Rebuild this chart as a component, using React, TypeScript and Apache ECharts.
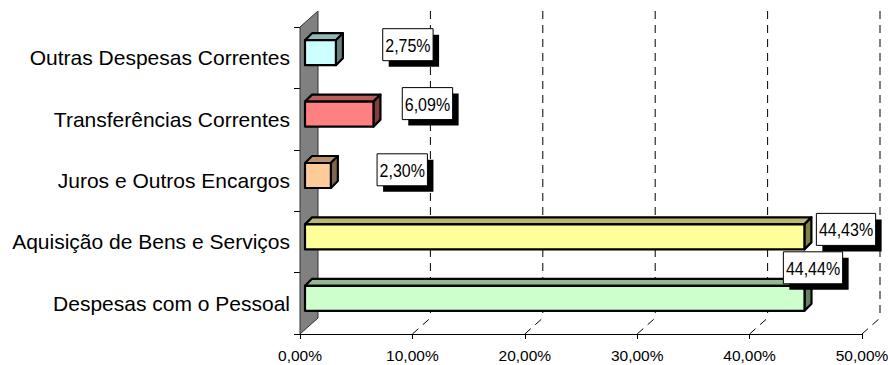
import React, { useEffect, useRef } from "react";
import * as echarts from "echarts";

// Categories listed bottom-to-top, as the category axis lays them out
const categories = [
  "Despesas com o Pessoal",
  "Aquisição de Bens e Serviços",
  "Juros e Outros Encargos",
  "Transferências Correntes",
  "Outras Despesas Correntes",
];
const shares = [44.44, 44.43, 2.3, 6.09, 2.75];
const axisTicks = [0, 10, 20, 30, 40, 50];

const barColors = ["#CCFFCC", "#FFFF99", "#FFCC99", "#FF8080", "#CCFFFF"];
// Centre of each value box relative to the end of its bar's front face
const labelOffsets: number[][] = [
  [8.5, -30.5],
  [41.6, -7.5],
  [71.4, -5.7],
  [54, -10.5],
  [72, -8],
];

const FONT = "Liberation Sans, Arial, Helvetica, sans-serif";
const LABEL_FONT_SIZE = 16;
const LABEL_STRETCH_Y = 1.2;
const WALL_DX = 18;
const WALL_DY = -16;
const BAR_SHIFT = 5;
const BAR_DEPTH = 7;
const BAR_HEIGHT = 25;
const BOX_PAD_X = 2.5;
const BOX_HEIGHT = 32;
const SHADOW = 6;

const pct = (v: number) => v.toFixed(2).replace(".", ",") + "%";

function shade(hex: string, k: number) {
  const n = parseInt(hex.slice(1), 16);
  const r = Math.round(((n >> 16) & 255) * k);
  const g = Math.round(((n >> 8) & 255) * k);
  const b = Math.round((n & 255) * k);
  return `rgb(${r},${g},${b})`;
}

let measureCtx: CanvasRenderingContext2D | null = null;
function textWidth(text: string, font: string) {
  if (!measureCtx) measureCtx = document.createElement("canvas").getContext("2d");
  if (!measureCtx) return text.length * 9;
  measureCtx.font = font;
  return measureCtx.measureText(text).width;
}

export default function App() {
  const ref = useRef<HTMLDivElement>(null);

  useEffect(() => {
    if (!ref.current) return;
    const chart = echarts.init(ref.current, null, { renderer: "svg" });
    const labelFont = `${LABEL_FONT_SIZE}px ${FONT}`;

    const option: any = {
      animation: false,
      backgroundColor: "#fff",
      grid: { left: 300, right: 26, top: 27, bottom: 31, outerBoundsMode: "none" },
      xAxis: {
        type: "value",
        min: 0,
        max: 50,
        interval: 10,
        axisLine: { show: true, lineStyle: { color: "#000", width: 1 } },
        axisTick: { show: true, length: 5, lineStyle: { color: "#000" } },
        splitLine: { show: false },
        axisLabel: {
          formatter: (v: number) => pct(v),
          color: "#000",
          fontSize: 15.5,
          fontFamily: FONT,
          margin: 13,
        },
      },
      yAxis: {
        type: "category",
        data: categories,
        axisLine: { show: true, lineStyle: { color: "#000", width: 1 } },
        axisTick: { show: true, length: 6, lineStyle: { color: "#000" } },
        splitLine: { show: false },
        axisLabel: { color: "#000", fontSize: 21, fontFamily: FONT, margin: 10 },
      },
      series: [
        {
          // side wall and the dashed gridlines on the back wall and floor
          type: "custom",
          z: 1,
          clip: false,
          silent: true,
          encode: { x: 0, y: 1 },
          data: axisTicks.map((t) => [t, 0]),
          renderItem: (params: any, api: any) => {
            const cs = params.coordSys;
            const top = cs.y;
            const bottom = cs.y + cs.height;
            const t = api.value(0);
            const x = api.coord([t, 0])[0];
            if (t === 0) {
              return {
                type: "polygon",
                shape: {
                  points: [
                    [x, top],
                    [x + WALL_DX, top + WALL_DY],
                    [x + WALL_DX, bottom + WALL_DY],
                    [x, bottom],
                  ],
                },
                style: { fill: "#808080", stroke: "#333", lineWidth: 1 },
              };
            }
            const last = t === axisTicks[axisTicks.length - 1];
            const style = {
              stroke: last ? "#808080" : "#000",
              lineWidth: last ? 2 : 1,
              lineDash: [8, 6],
              fill: null,
            };
            return {
              type: "group",
              children: [
                {
                  type: "line",
                  shape: {
                    x1: x + WALL_DX,
                    y1: top + WALL_DY,
                    x2: x + WALL_DX,
                    y2: bottom + WALL_DY,
                  },
                  style,
                },
                {
                  type: "line",
                  shape: { x1: x, y1: bottom, x2: x + WALL_DX, y2: bottom + WALL_DY },
                  style: { ...style, stroke: "#000", lineWidth: 1 },
                },
              ],
            };
          },
        },
        {
          // 3D bars: front face, top face and right side face
          type: "custom",
          z: 3,
          clip: false,
          encode: { x: 0, y: 1 },
          data: shares.map((v, i) => [v, i]),
          renderItem: (_params: any, api: any) => {
            const v = api.value(0);
            const idx = api.value(1);
            const p0 = api.coord([0, idx]);
            const p1 = api.coord([v, idx]);
            const x = p0[0] + BAR_SHIFT;
            const w = p1[0] - p0[0];
            const y = p0[1] - BAR_SHIFT - BAR_HEIGHT / 2;
            const h = BAR_HEIGHT;
            const d = BAR_DEPTH;
            const c = barColors[idx];
            const edge = { stroke: "#000", lineWidth: 2.2, lineJoin: "round" };
            return {
              type: "group",
              children: [
                {
                  type: "polygon",
                  shape: { points: [[x, y], [x + d, y - d], [x + w + d, y - d], [x + w, y]] },
                  style: { fill: shade(c, 0.72), ...edge },
                },
                {
                  type: "polygon",
                  shape: {
                    points: [[x + w, y], [x + w + d, y - d], [x + w + d, y + h - d], [x + w, y + h]],
                  },
                  style: { fill: shade(c, 0.5), ...edge },
                },
                {
                  type: "rect",
                  shape: { x, y, width: w, height: h },
                  style: { fill: c, ...edge },
                },
              ],
            };
          },
        },
        {
          // value boxes with a solid drop shadow
          type: "custom",
          z: 5,
          clip: false,
          encode: { x: 0, y: 1 },
          data: shares.map((v, i) => [v, i]),
          renderItem: (_params: any, api: any) => {
            const v = api.value(0);
            const idx = api.value(1);
            const p = api.coord([v, idx]);
            const off = labelOffsets[idx];
            const cx = p[0] + BAR_SHIFT + off[0];
            const cy = p[1] - BAR_SHIFT + off[1];
            const text = pct(v);
            const bw = textWidth(text, labelFont) + BOX_PAD_X * 2;
            const bx = cx - bw / 2;
            const by = cy - BOX_HEIGHT / 2;
            return {
              type: "group",
              children: [
                {
                  type: "rect",
                  shape: { x: bx + SHADOW, y: by + SHADOW, width: bw, height: BOX_HEIGHT },
                  style: { fill: "#000" },
                },
                {
                  type: "rect",
                  shape: { x: bx, y: by, width: bw, height: BOX_HEIGHT },
                  style: { fill: "#fff", stroke: "#000", lineWidth: 1 },
                },
                {
                  type: "text",
                  x: cx,
                  y: cy + 0.5,
                  scaleY: LABEL_STRETCH_Y,
                  style: {
                    text,
                    font: labelFont,
                    fill: "#000",
                    align: "center",
                    verticalAlign: "middle",
                  },
                },
              ],
            };
          },
        },
      ],
    };

    chart.setOption(option);
    return () => chart.dispose();
  }, []);

  return (
    <div
      ref={ref}
      style={{ position: "absolute", left: 0, top: 0, width: 888, height: 365, background: "#fff" }}
    />
  );
}
